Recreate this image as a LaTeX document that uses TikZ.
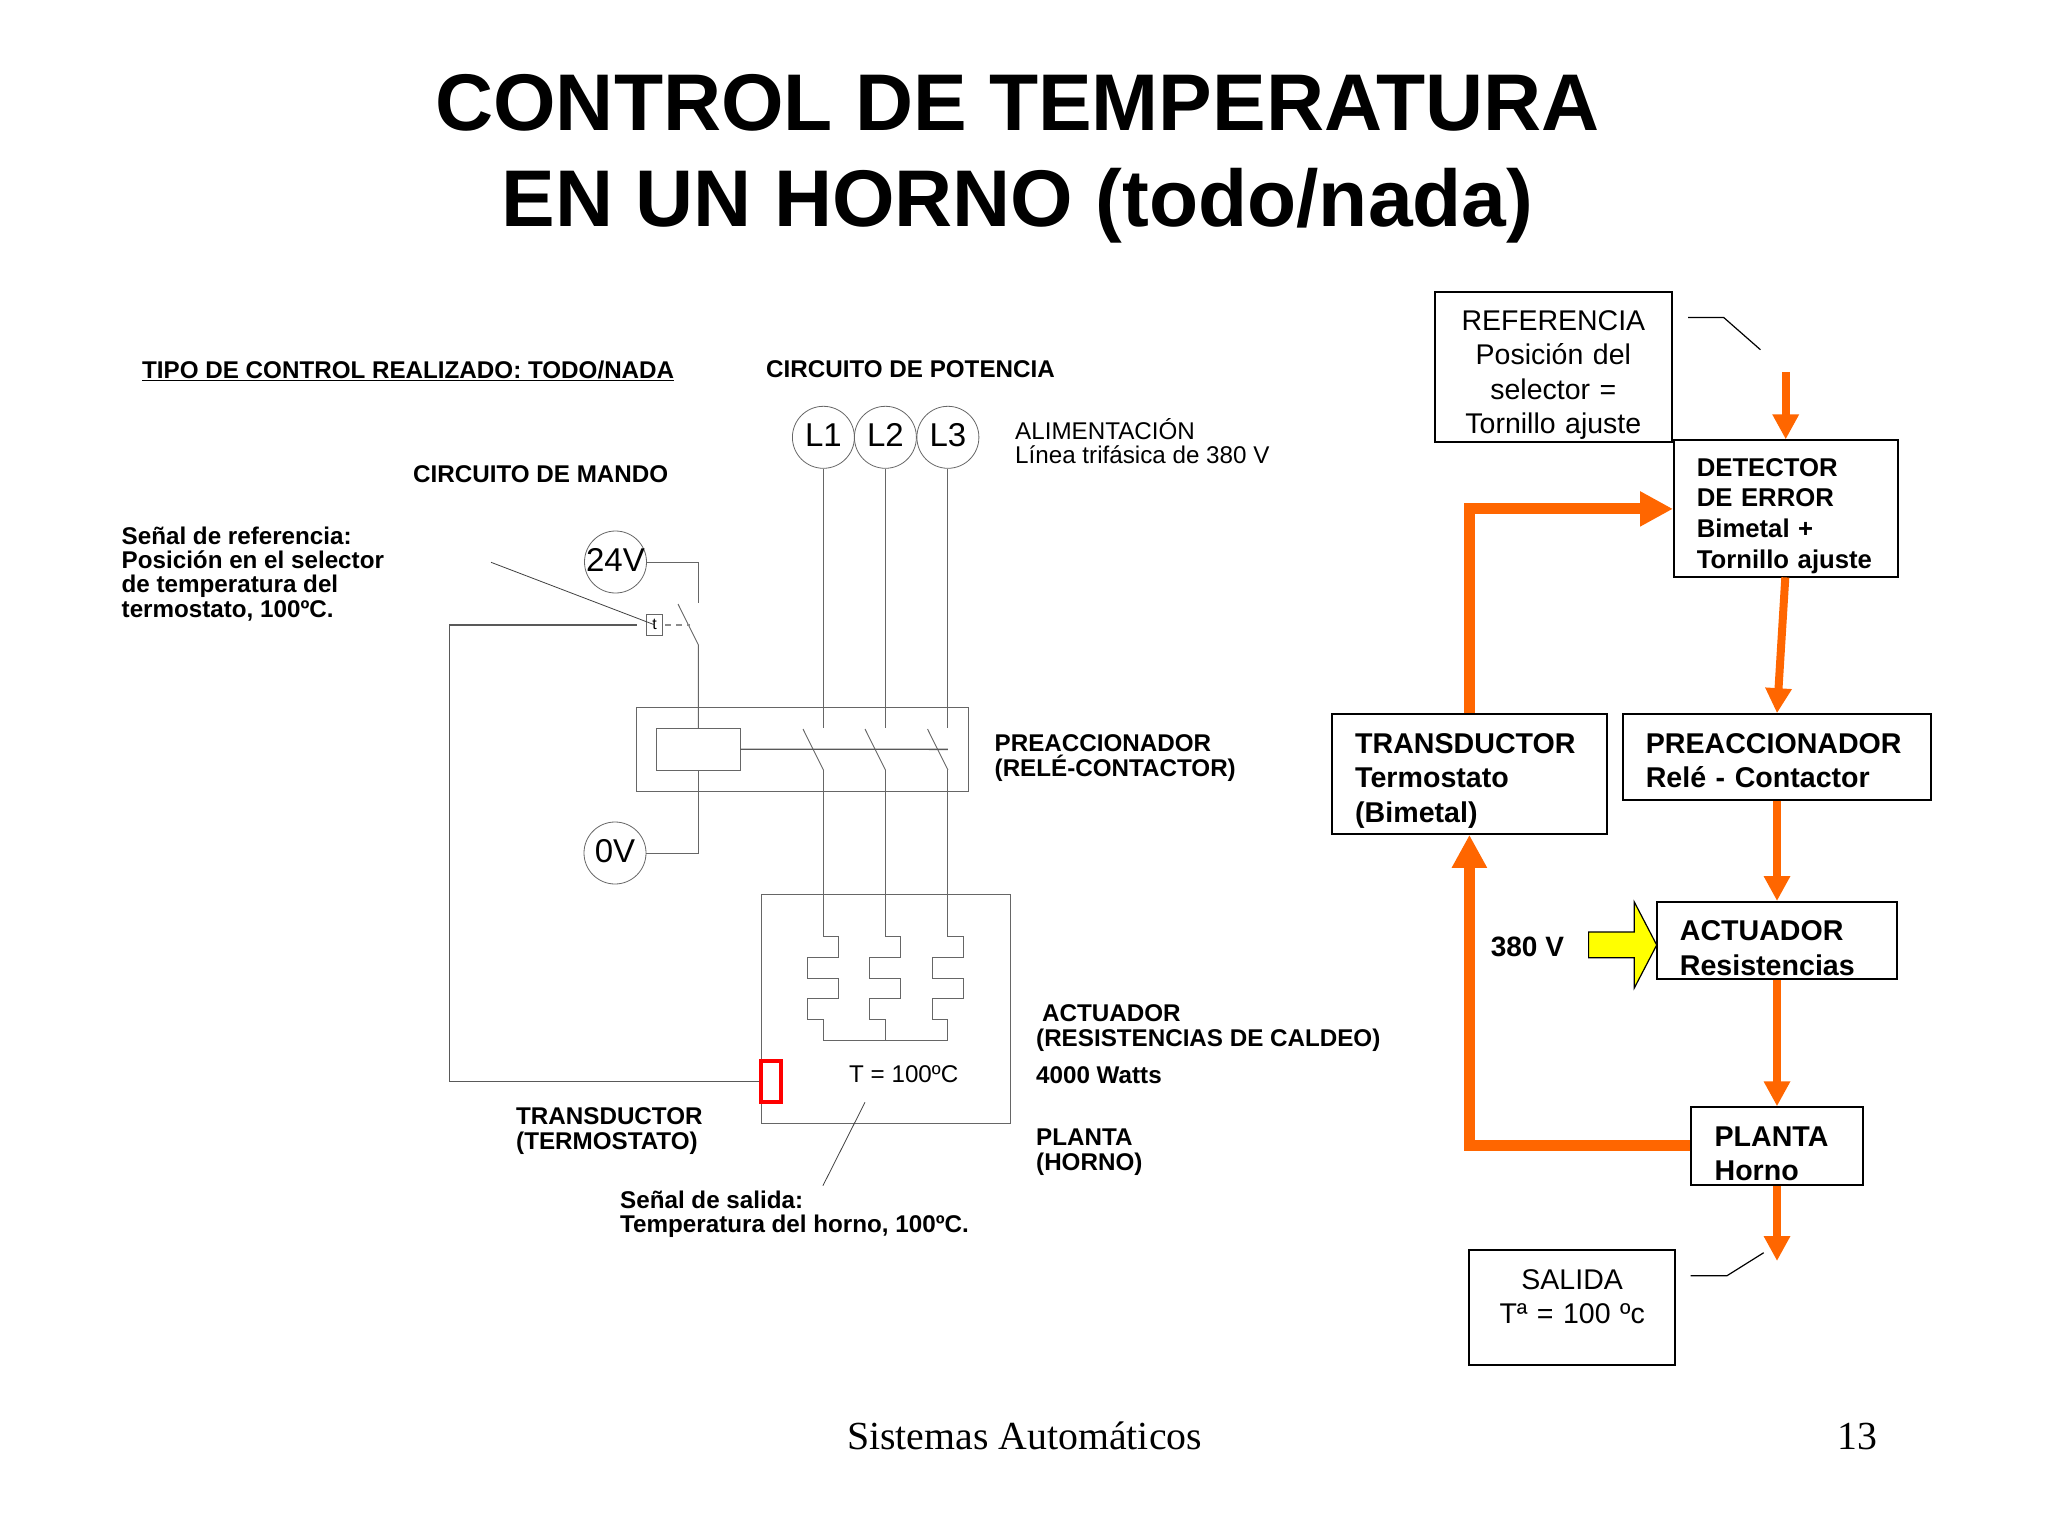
\documentclass[tikz,border=0pt]{standalone}
\usepackage{fontspec}
\setmainfont{Liberation Sans}
\newfontfamily\footfont{Liberation Serif}
\usetikzlibrary{arrows.meta}
\newcommand{\fs}[2]{\lineskiplimit=-100pt\fontsize{#1}{#2}\selectfont}
\definecolor{flow}{RGB}{255,102,0}
\definecolor{hot}{RGB}{255,255,0}
\tikzset{
	wire/.style={draw=black!60, line width=0.9pt},
	sense/.style={draw=black!65, line width=1.4pt},
	leader/.style={draw=black!75, line width=0.8pt},
	callout/.style={draw=black, line width=1.2pt},
	source/.style={circle, draw=black!60, line width=0.8pt, minimum size=62pt, inner sep=-10pt, text depth=5pt, font=\fs{33}{33}},
	frame/.style={rectangle, draw=black!60, line width=0.9pt, inner sep=0pt},
	lbl/.style={anchor=base west, inner sep=0pt, align=left, font=\fs{24.2}{24.3}\bfseries},
	lblthin/.style={anchor=base west, inner sep=0pt, align=left, font=\fs{24.2}{24}},
	blockbox/.style={rectangle, draw=black, line width=2pt, anchor=base west, inner ysep=0pt, align=left},
	blockbold/.style={blockbox, font=\fs{28.6}{34.4}\bfseries},
	blockbig/.style={blockbox, inner xsep=0pt, align=center, font=\fs{28.5}{34.4}},
	thin flow/.style={draw=flow, line width=8pt, -{Triangle[length=25pt,width=25pt]}},
	fat flow/.style={draw=flow, line width=11pt, -{Triangle[length=33pt,width=33pt]}}
}
\begin{document}
\begin{tikzpicture}[x=1pt, y=-1pt, >=stealth]
	\useasboundingbox (0,0) rectangle (2048,1531);
	% titles
	\node[anchor=base, align=center, font=\fs{80.4}{96.5}\bfseries] (title) at (1017.5,226.5) {CONTROL DE TEMPERATURA\\EN UN HORNO (todo/nada)};
	\node[anchor=base west, inner sep=0pt, font=\footfont\fs{39.8}{40}] (foot) at (847,1449) {Sistemas Automáticos};
	\node[anchor=base west, inner sep=0pt, font=\footfont\fs{39.8}{40}] (page) at (1837,1449) {13};
	\node[lbl] (tipo) at (142,378) {\underline{TIPO DE CONTROL REALIZADO: TODO/NADA}};
	\node[lbl] (potencia) at (766,377) {CIRCUITO DE POTENCIA};
	\node[lbl] (mando) at (413,482) {CIRCUITO DE MANDO};
	\node[lbl] (refsignal) at (121.5,617) {Señal de referencia:\\Posición en el selector\\de temperatura del\\termostato, 100ºC.};
	\node[lblthin] (feed) at (1015,463.3) {ALIMENTACIÓN\\Línea trifásica de 380 V};
	\node[lbl] (prelbl) at (994.5,776) {PREACCIONADOR\\(RELÉ-CONTACTOR)};
	\node[lbl] (actlbl) at (1042,1021) {ACTUADOR};
	\node[lbl] (rcaldeo) at (1036,1046) {(RESISTENCIAS DE CALDEO)};
	\node[lbl] (watts) at (1036,1083) {4000 Watts};
	\node[lbl] (plantalbl) at (1036,1170) {PLANTA\\(HORNO)};
	\node[lbl] (translbl) at (516,1149) {TRANSDUCTOR\\(TERMOSTATO)};
	\node[lbl] (outsignal) at (620,1232.7) {Señal de salida:\\Temperatura del horno, 100ºC.};
	\node[lblthin] (tcien) at (849,1082.7) {T = 100ºC};
	% supply lines
	\node[source] (L1) at (823.4,437.3) {L1};
	\node[source] (L2) at (885.4,437.3) {L2};
	\node[source] (L3) at (947.9,437.3) {L3};
	\node[source] (V24) at (615.5,562) {24V};
	\node[source] (V0) at (615,853) {0V};
	% contactor
	\node[frame, minimum width=331.8pt, minimum height=83.6pt] (relay) at (802.6,749.5) {};
	\node[frame, minimum width=83.2pt, minimum height=41.7pt] (coil) at (698.4,749.2) {};
	\coordinate (open1) at (823.4,728.3);
	\coordinate (open2) at (885.4,728.3);
	\coordinate (open3) at (947.9,728.3);
	\coordinate (shut1) at (823.4,770);
	\coordinate (shut2) at (885.4,770);
	\coordinate (shut3) at (947.9,770);
	\coordinate (link) at (947.9,749.3);
	\draw[wire] (L1) -- (open1);
	\draw[wire] (L2) -- (open2);
	\draw[wire] (L3) -- (open3);
	\draw[wire] (803,729) -- (shut1);
	\draw[wire] (865,729) -- (shut2);
	\draw[wire] (927.5,729) -- (shut3);
	\draw[sense] (coil.east) -- (link);
	% control branch
	\coordinate (swtop) at (698.4,603.3);
	\coordinate (swfoot) at (698.4,645);
	\draw[wire] (V24.east) -- (698.4,562) -- (swtop);
	\draw[wire] (678,604) -- (swfoot) -- (coil.north);
	\draw[wire] (coil.south) -- (698.4,853) -- (V0.east);
	% oven
	\node[frame, minimum width=249.4pt, minimum height=228.6pt] (oven) at (885.7,1009) {};
	\draw[wire] (shut1) -- (823.4,936) -- (838.9,936) -- (838.9,957) -- (807.5,957) -- (807.5,978) -- (838.9,978) -- (838.9,998.7) -- (807.5,998.7) -- (807.5,1019.3) -- (823.4,1019.3) -- (823.4,1040);
	\draw[wire] (shut2) -- (885.4,936) -- (900.9,936) -- (900.9,957) -- (869.5,957) -- (869.5,978) -- (900.9,978) -- (900.9,998.7) -- (869.5,998.7) -- (869.5,1019.3) -- (885.4,1019.3) -- (885.4,1040);
	\draw[wire] (shut3) -- (947.9,936) -- (963.4,936) -- (963.4,957) -- (932,957) -- (932,978) -- (963.4,978) -- (963.4,998.7) -- (932,998.7) -- (932,1019.3) -- (947.9,1019.3) -- (947.9,1040) -- (823.4,1040);
	% thermostat
	\node[rectangle, draw=red, line width=3.5pt, minimum width=20pt, minimum height=41pt, inner sep=0pt] (bimetal) at (771.2,1081.7) {};
	\node[frame, minimum width=16pt, minimum height=21pt, font=\fs{16}{16}] (selector) at (654.5,624.8) {t};
	\draw[sense] (bimetal.west) -- (449.5,1081.7) -- (449.5,625) -- (636.7,625);
	\draw[draw=black!45, line width=1.3pt, dash pattern=on 6pt off 5pt] (665,625) -- (689.6,625);
	\draw[leader] (491,562.3) -- (selector.center);
	\coordinate (planttip) at (865,1102.3);
	\draw[leader] (planttip) -- (822.9,1185.7);
	% block diagram
	\node[blockbig, text width=236.7pt, text height=38.6pt, text depth=111.8pt] (reference) at (1434,330.5) {REFERENCIA\\Posición del\\selector =\\Tornillo ajuste};
	\node[blockbox, font=\fs{25.7}{30.6}\bfseries, inner xsep=22.8pt, text width=178pt, text height=35.9pt, text depth=101.1pt] (detector) at (1673,476.3) {DETECTOR\\DE ERROR\\Bimetal +\\Tornillo ajuste};
	\node[blockbold, inner xsep=22.9pt, text width=228.4pt, text height=39pt, text depth=80.4pt] (transductor) at (1331.3,753.4) {TRANSDUCTOR\\Termostato\\(Bimetal)};
	\node[blockbold, inner xsep=22.8pt, text width=262.5pt, text height=39pt, text depth=46.3pt] (preaccion) at (1622,753.4) {PREACCIONADOR\\Relé - Contactor};
	\node[blockbold, inner xsep=22.9pt, text width=194.5pt, text height=38.8pt, text depth=38.2pt] (actuador) at (1656,940.8) {ACTUADOR\\Resistencias};
	\node[blockbold, inner xsep=23.3pt, text width=125.3pt, text height=39pt, text depth=38.3pt] (planta) at (1690.3,1146.3) {PLANTA\\Horno};
	\node[blockbig, text width=205.7pt, text height=39.3pt, text depth=75.5pt] (salida) at (1468.3,1289) {SALIDA\\Tª = 100 ºc};
	\coordinate (refin) at (1785.7,371.8);
	\coordinate (outtip) at (1777,1261);
	\draw[thin flow] (refin) -- (refin |- detector.north);
	\draw[thin flow] (1785.3,577.4) -- (1777,713.2);
	\draw[thin flow] (preaccion.south -| outtip) -- (actuador.north -| outtip);
	\draw[thin flow] (actuador.south -| outtip) -- (planta.north -| outtip);
	\draw[thin flow] (planta.south -| outtip) -- (outtip);
	\draw[fat flow] (transductor.north) |- (detector.west);
	\draw[fat flow] (planta.west) -| (transductor.south);
	% mains input
	\node[lbl, font=\fs{28}{28}\bfseries] (tres) at (1490.6,956.5) {380 V};
	\draw[draw=black, fill=hot, line width=1.2pt] (1588.6,932) -- (1634.3,932) -- (1634.3,902) -- (1656.7,945) -- (1634.3,988) -- (1634.3,957.7) -- (1588.6,957.7) -- cycle;
	% notes
	\draw[callout] (1688,317.5) -- (1723.7,317.5) -- (1760.4,349.7);
	\draw[callout] (1690.6,1275.7) -- (1727,1275.7) -- (1763.7,1252.7);
\end{tikzpicture}
\end{document}
